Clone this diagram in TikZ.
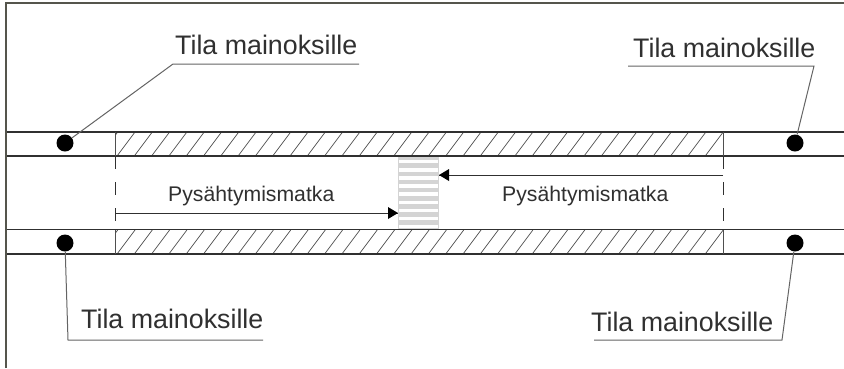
\documentclass[tikz,border=0pt]{standalone}
\usepackage{fontspec}
\setmainfont{Liberation Sans}
\definecolor{ink}{HTML}{303030}
\definecolor{framec}{HTML}{55554C}
\begin{document}
\begin{tikzpicture}[x=1pt,y=-1pt,
  road/.style={draw=ink,line width=1.4pt},
  leader/.style={draw=ink!75,line width=1pt},
  hatchln/.style={draw=ink!85,line width=0.7pt},
  callout/.style={font=\fontsize{26.8}{28}\selectfont,text=ink,inner sep=0pt,anchor=base west},
  dist/.style={font=\fontsize{21.2}{23}\selectfont,text=ink,inner sep=0pt,anchor=base west},
  dot/.style={circle,fill=black,minimum size=17pt,inner sep=0pt},
  dim/.style={draw=ink,line width=1pt}]
\useasboundingbox (0,0) rectangle (844,368);
\fill[white] (0,0) rectangle (844,368);
% hatching
\begin{scope}
\clip (115,132) rectangle (723,156);
\foreach \i in {-1,...,36} \draw[hatchln] ({117+17.3*\i},156) -- ({135+17.3*\i},132);
\end{scope}
\begin{scope}
\clip (115,230) rectangle (723,254);
\foreach \i in {-1,...,36} \draw[hatchln] ({117+17.3*\i},254) -- ({135+17.3*\i},230);
\end{scope}
% crossing stripes
\fill[black!17] (398,156) rectangle (439,230);
\foreach \i in {0,...,8} \fill[white] (399,{160+8.1*\i}) rectangle (438,{163.4+8.1*\i});
% road lines
\coordinate (rl1) at (6,132); \coordinate (rr1) at (844,132);
\coordinate (rl2) at (6,156); \coordinate (rr2) at (844,156);
\coordinate (rl3) at (6,229.5); \coordinate (rr3) at (844,229.5);
\coordinate (rl4) at (6,254); \coordinate (rr4) at (844,254);
\draw[road] (rl1) -- (rr1); \draw[road] (rl2) -- (rr2);
\draw[road] (rl3) -- (rr3); \draw[road] (rl4) -- (rr4);
% hatch ends
\draw[hatchln] (115,132) -- (115,156) (723,132) -- (723,156) (115,230) -- (115,254) (723,230) -- (723,254);
% dashes
\foreach \x in {115,723} {
  \draw[dim] (\x,156) -- (\x,169);
  \draw[dim] (\x,182) -- (\x,195);
  \draw[dim] (\x,208) -- (\x,221);
}
% frame
\draw[draw=framec,line width=1.5pt] (6,368) -- (6,3) -- (844,3);
% dots
\node[dot] (d1) at (65,143) {};
\node[dot] (d2) at (795,143) {};
\node[dot] (d3) at (65,243) {};
\node[dot] (d4) at (795,243) {};
% callouts
\node[callout] (t1) at (175,54) {Tila mainoksille};
\node[callout] (t2) at (633,57) {Tila mainoksille};
\node[callout] (t3) at (81,328) {Tila mainoksille};
\node[callout] (t4) at (591,331) {Tila mainoksille};
\coordinate (k1a) at (173,64); \coordinate (k1b) at (359,64);
\coordinate (k2a) at (628,66); \coordinate (k2b) at (814,66);
\coordinate (k3a) at (68,340); \coordinate (k3b) at (263,340);
\coordinate (k4a) at (594,340); \coordinate (k4b) at (782,340);
\draw[leader] (k1b) -- (k1a) -- (d1);
\draw[leader] (k2a) -- (k2b) -- (d2);
\draw[leader] (k3b) -- (k3a) -- (d3);
\draw[leader] (k4a) -- (k4b) -- (d4);
% distances
\node[dist] (p1) at (168,201) {Pysähtymismatka};
\node[dist] (p2) at (502,201) {Pysähtymismatka};
\coordinate (a1) at (115,213); \coordinate (a2) at (398,213);
\coordinate (b1) at (723,175); \coordinate (b2) at (439,175);
\draw[dim] (a1) -- (a2);
\draw[dim] (b1) -- (b2);
\fill[black] (a2) -- (388,207) -- (388,219) -- cycle;
\fill[black] (b2) -- (449,169) -- (449,181) -- cycle;
\end{tikzpicture}
\end{document}
